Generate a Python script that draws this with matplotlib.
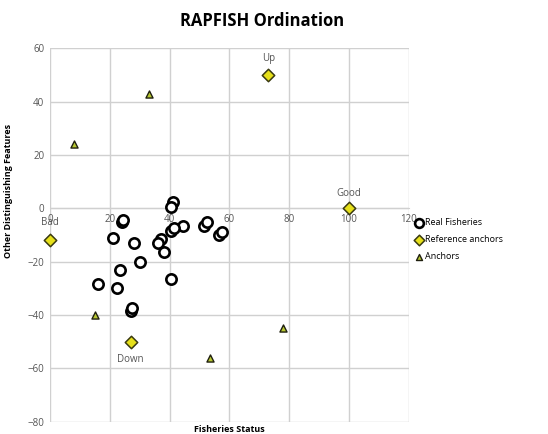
import matplotlib
matplotlib.use("Agg")
import matplotlib.pyplot as plt

# real fisheries (open circles)
fish_x = [24, 24.5, 21, 28, 30, 23.5, 16, 22.5, 41, 40.5, 44.5, 40.5, 41.5, 37, 36, 38, 40.5, 51.5, 52.5, 56.5, 57.5, 27, 27.5]
fish_y = [-5, -4.5, -11, -13, -20, -23, -28.5, -30, 2.5, 0.5, -6.5, -8.5, -7.5, -11.5, -13, -16.5, -26.5, -6.5, -5, -10, -9, -38.5, -37.5]

# reference anchors (diamonds) with labels
ref_x = [73, 100, 0, 27]
ref_y = [50, 0, -12, -50]
ref_names = ["Up", "Good", "Bad", "Down"]

# other anchors (triangles)
anc_x = [8, 33, 15, 53.5, 78]
anc_y = [24, 43, -40, -56, -45]

plt.rcParams['font.family'] = ['Open Sans', 'DejaVu Sans']

fig = plt.figure(figsize=(5.48, 4.34), dpi=100)
ax = fig.add_axes([0.091, 0.028, 0.655, 0.861])

ax.scatter(fish_x, fish_y, s=55, facecolor='white', edgecolor='black', linewidth=1.9, zorder=3, label='Real Fisheries')
ax.scatter(ref_x, ref_y, s=40, marker='D', facecolor='#e6e01a', edgecolor='#3a3a10', linewidth=1.1, zorder=4,
           clip_on=False, label='Reference anchors')
ax.scatter(anc_x, anc_y, s=26, marker='^', facecolor='#b8c832', edgecolor='#202010', linewidth=1, zorder=4, label='Anchors')

# labels on the reference anchors
offsets = {"Up": (0, 12), "Good": (0, 11), "Bad": (0, 13), "Down": (0, -13)}
for x, y, n in zip(ref_x, ref_y, ref_names):
    ax.annotate(n, (x, y), xytext=offsets[n], textcoords='offset points',
                ha='center', va='center', fontsize=7, color='#555555', zorder=5)

ax.set_xlim(0, 120)
ax.set_ylim(-80, 60)
ax.set_xticks(range(0, 121, 20))
ax.set_yticks(range(-80, 61, 20))
ax.grid(True, color='#d0d0d0', linewidth=1)
ax.set_axisbelow(True)
for s in ['top', 'right', 'left']:
    ax.spines[s].set_visible(False)
ax.spines['bottom'].set_position(('data', 0))
ax.spines['bottom'].set_color('#d0d0d0')
ax.tick_params(length=0, labelsize=7, labelcolor='#555555', pad=4)
for lab in ax.get_xticklabels():
    lab.set_zorder(6)

ax.set_title('RAPFISH Ordination', fontsize=12, fontweight='bold', pad=16, x=0.59)
fig.text(0.418, 0.0, 'Fisheries Status', ha='center', va='bottom', fontsize=6.5, fontweight='bold')
fig.text(0.015, 0.56, 'Other Distinguishing Features', rotation=90, ha='center', va='center', fontsize=6.5, fontweight='bold')

ax.legend(loc='center left', bbox_to_anchor=(1.0, 0.487), frameon=False, fontsize=6.5,
          handletextpad=0.1, labelspacing=0.9, markerscale=0.85, handlelength=1.2, borderaxespad=0.1)

fig.savefig('out.png', dpi=100)
